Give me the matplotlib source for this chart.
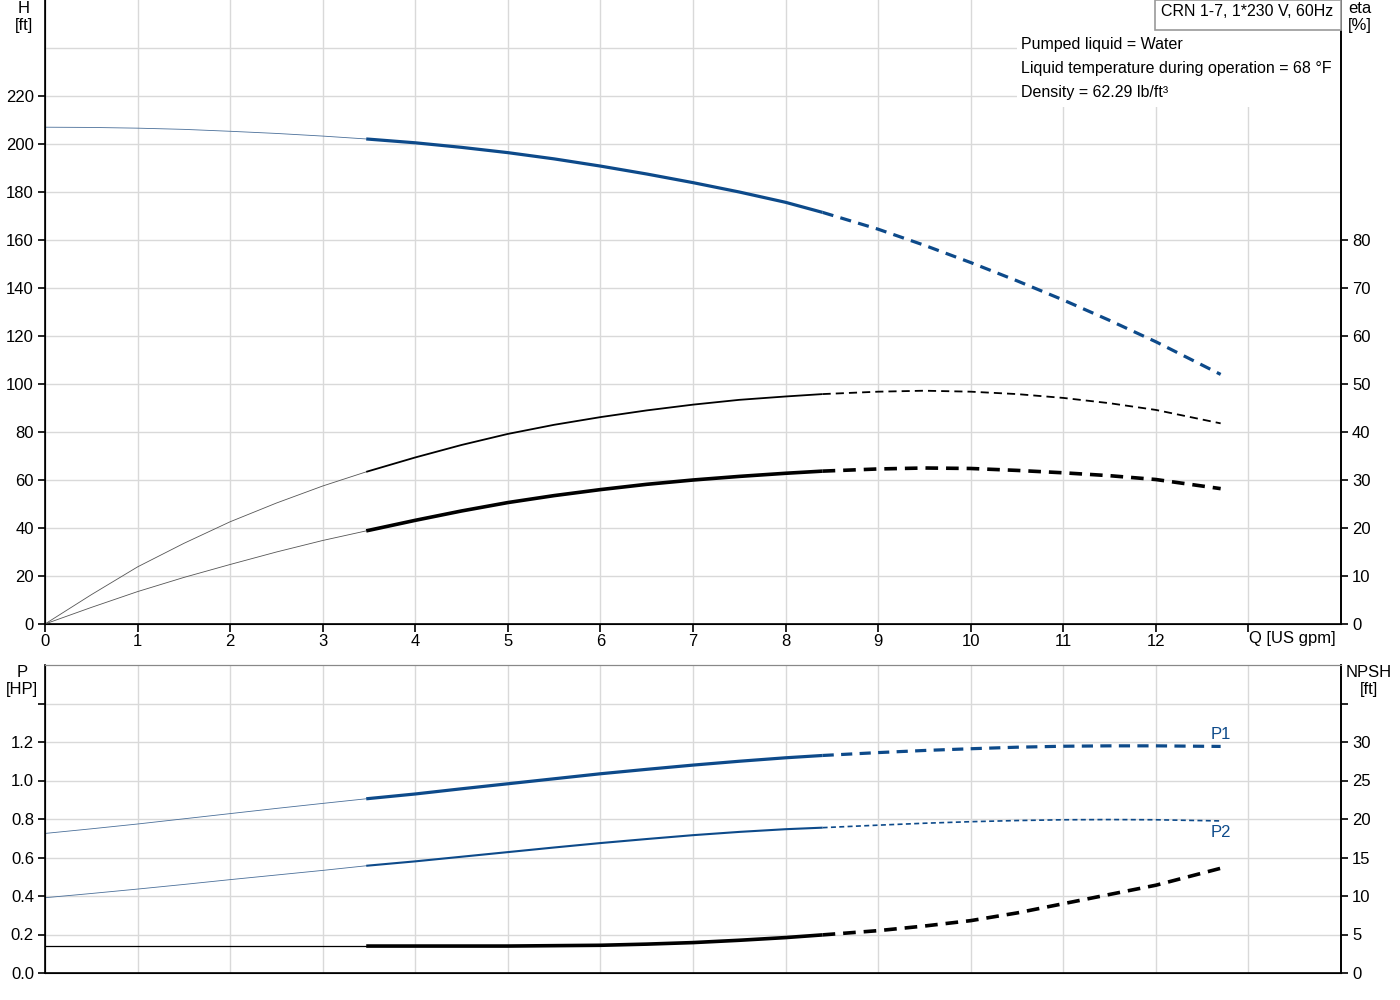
import numpy as np
import matplotlib
matplotlib.use("Agg")
import matplotlib.pyplot as plt
from matplotlib.patches import Rectangle

plt.rcParams['font.family'] = ['Liberation Sans', 'DejaVu Sans']
plt.rcParams['font.size'] = 12

BLUE = "#0d4a8a"

# flow values [US gpm]; 3.47 and 8.4 are where the line style changes
q = [0, 0.5, 1, 1.5, 2, 2.5, 3, 3.47, 4, 4.5, 5, 5.5, 6, 6.5, 7, 7.5, 8, 8.4,
     9, 9.5, 10, 10.5, 11, 11.5, 12, 12.7]

head = [207, 206.9, 206.6, 206.1, 205.3, 204.4, 203.3, 202.1, 200.5, 198.6,
        196.4, 193.8, 190.8, 187.5, 183.9, 180.0, 175.7, 171.5, 164.5, 157.8,
        150.6, 143.0, 135.0, 126.5, 117.6, 104.0]
eta_a = [0, 6.1, 11.9, 16.8, 21.3, 25.2, 28.75, 31.7, 34.7, 37.3, 39.6, 41.5,
         43.1, 44.5, 45.7, 46.7, 47.4, 47.9, 48.4, 48.6, 48.4, 47.9, 47.1,
         46.0, 44.6, 41.8]   # [%]
eta_b = [0, 3.45, 6.75, 9.7, 12.4, 15.0, 17.4, 19.4, 21.6, 23.55, 25.3, 26.75,
         28.0, 29.1, 30.0, 30.75, 31.4, 31.85, 32.3, 32.5, 32.4, 32.0, 31.5,
         30.9, 30.1, 28.2]   # [%]
p1 = [0.725, 0.749, 0.774, 0.801, 0.828, 0.855, 0.881, 0.905, 0.93, 0.957,
      0.983, 1.009, 1.035, 1.058, 1.08, 1.10, 1.118, 1.13, 1.145, 1.156,
      1.165, 1.173, 1.178, 1.18, 1.18, 1.177]   # [HP]
p2 = [0.391, 0.413, 0.436, 0.460, 0.485, 0.509, 0.533, 0.557, 0.580, 0.604,
      0.628, 0.652, 0.675, 0.696, 0.716, 0.733, 0.747, 0.755, 0.768, 0.778,
      0.786, 0.792, 0.796, 0.797, 0.796, 0.79]  # [HP]
npsh = [3.5, 3.5, 3.5, 3.5, 3.5, 3.5, 3.5, 3.5, 3.5, 3.5, 3.5, 3.55, 3.6,
        3.75, 3.95, 4.25, 4.6, 4.95, 5.5, 6.1, 6.8, 7.8, 9.0, 10.2, 11.4,
        13.6]  # [ft]

info_lines = ["Pumped liquid = Water",
              "Liquid temperature during operation = 68 °F",
              "Density = 62.29 lb/ft³"]
title = "CRN 1-7, 1*230 V, 60Hz"

q = np.array(q)
i1 = list(q).index(3.47)
i2 = list(q).index(8.4)


def draw(ax, y, color, lw_thin, lw_mid, dash, thin_color=None, lw_dash=None):
    y = np.array(y)
    ax.plot(q[:i1 + 1], y[:i1 + 1], color=thin_color or color, lw=lw_thin)
    ax.plot(q[i1:i2 + 1], y[i1:i2 + 1], color=color, lw=lw_mid,
            solid_capstyle='butt', solid_joinstyle='round')
    ax.plot(q[i2:], y[i2:], color=color, lw=lw_dash or lw_mid,
            dashes=dash, dash_capstyle='butt')


fig = plt.figure(figsize=(14, 10), dpi=100)
ax1 = fig.add_axes([45 / 1400, 1 - 624 / 1000, 1296 / 1400, 624 / 1000])
ax2 = fig.add_axes([45 / 1400, 1 - 973 / 1000, 1296 / 1400, 308 / 1000])

grid_c = "#d9d9d9"
for ax in (ax1, ax2):
    ax.set_xlim(0, 14)
    ax.set_xticks(range(0, 14))
    ax.grid(True, color=grid_c, lw=1)
    ax.set_axisbelow(True)
    for side in ('left', 'right', 'bottom'):
        ax.spines[side].set_color('black')
        ax.spines[side].set_linewidth(1.2)
    ax.spines['top'].set_color('#888888')
    ax.tick_params(axis='y', length=5, width=1.2, pad=3)

# top panel: head and efficiency
ax1.set_ylim(0, 260)
ax1.set_yticks(range(0, 240, 20))
ax1.axhline(240, color=grid_c, lw=1, zorder=0.5)
ax1.set_xticklabels([str(i) for i in range(13)] + [''])
ax1.tick_params(axis='x', length=6, width=1.2, pad=1)
ax1.spines['top'].set_visible(False)

draw(ax1, head, BLUE, 0.6, 2.3, (3.5, 2.3), thin_color="#4a6f99")

ax1r = ax1.twinx()
ax1r.set_ylim(0, 130)
ax1r.set_yticks(range(0, 90, 10))
ax1r.tick_params(axis='y', length=5, width=1.2, pad=3)
ax1r.spines['right'].set_linewidth(1.2)
ax1r.spines['top'].set_visible(False)
draw(ax1r, eta_a, 'black', 0.6, 1.3, (4.5, 2.8), thin_color="#555555")
draw(ax1r, eta_b, 'black', 0.6, 2.6, (3.5, 2.2), thin_color="#555555")

# info box in the top right corner
fig.patches.append(Rectangle((1017 / 1400, 1 - 107 / 1000),
                             (1340 - 1017) / 1400, 107 / 1000,
                             transform=fig.transFigure, facecolor='white',
                             edgecolor='none', zorder=2))
fig.patches.append(Rectangle((1155 / 1400, 1 - 30 / 1000),
                             (1341 - 1155) / 1400, 30 / 1000,
                             transform=fig.transFigure, facecolor='white',
                             edgecolor='#999999', lw=1.2, zorder=3))
fig.text(1247 / 1400, 1 - 12 / 1000, title, ha='center', va='center',
         fontsize=11.5, zorder=4)
for k, line in enumerate(info_lines):
    fig.text(1021 / 1400, 1 - (44 + 24 * k) / 1000, line, ha='left',
             va='center', fontsize=11.5, zorder=4)

fig.text(24 / 1400, 1 - 17 / 1000, "H\n[ft]", ha='center', va='center',
         linespacing=1.2)
fig.text(1360 / 1400, 1 - 17 / 1000, "eta\n[%]", ha='center', va='center',
         linespacing=1.2)
fig.text(1292 / 1400, 1 - 639 / 1000, "Q [US gpm]", ha='center',
         va='center')

# bottom panel: power and NPSH
ax2.set_ylim(0, 1.6)
ticks_p = np.arange(0, 1.5, 0.2)
ax2.set_yticks(ticks_p)
ax2.set_yticklabels([f"{v:.1f}" if v < 1.3 else '' for v in ticks_p])
ax2.tick_params(axis='x', length=0, labelbottom=False)

draw(ax2, p1, BLUE, 0.6, 2.3, (3.5, 2.3), thin_color="#4a6f99")
draw(ax2, p2, BLUE, 0.6, 1.5, (3, 2), thin_color="#4a6f99", lw_dash=1.2)
ax2.text(12.7, 1.2, "P1", color=BLUE, ha='center', va='bottom')
ax2.text(12.7, 0.77, "P2", color=BLUE, ha='center', va='top')

ax2r = ax2.twinx()
ax2r.set_ylim(0, 40)
ax2r.set_yticks(range(0, 36, 5))
ax2r.set_yticklabels([str(v) if v <= 30 else '' for v in range(0, 36, 5)])
ax2r.tick_params(axis='y', length=5, width=1.2, pad=3)
ax2r.spines['right'].set_linewidth(1.2)
ax2r.spines['top'].set_color('#888888')
draw(ax2r, npsh, 'black', 0.9, 2.6, (3.5, 2.2), thin_color="black")

fig.text(22 / 1400, 1 - 681 / 1000, "P\n[HP]", ha='center', va='center',
         linespacing=1.2)
fig.text(1369 / 1400, 1 - 681 / 1000, "NPSH\n[ft]", ha='center',
         va='center', linespacing=1.2)

plt.savefig("out.png", dpi=100)
plt.close()
